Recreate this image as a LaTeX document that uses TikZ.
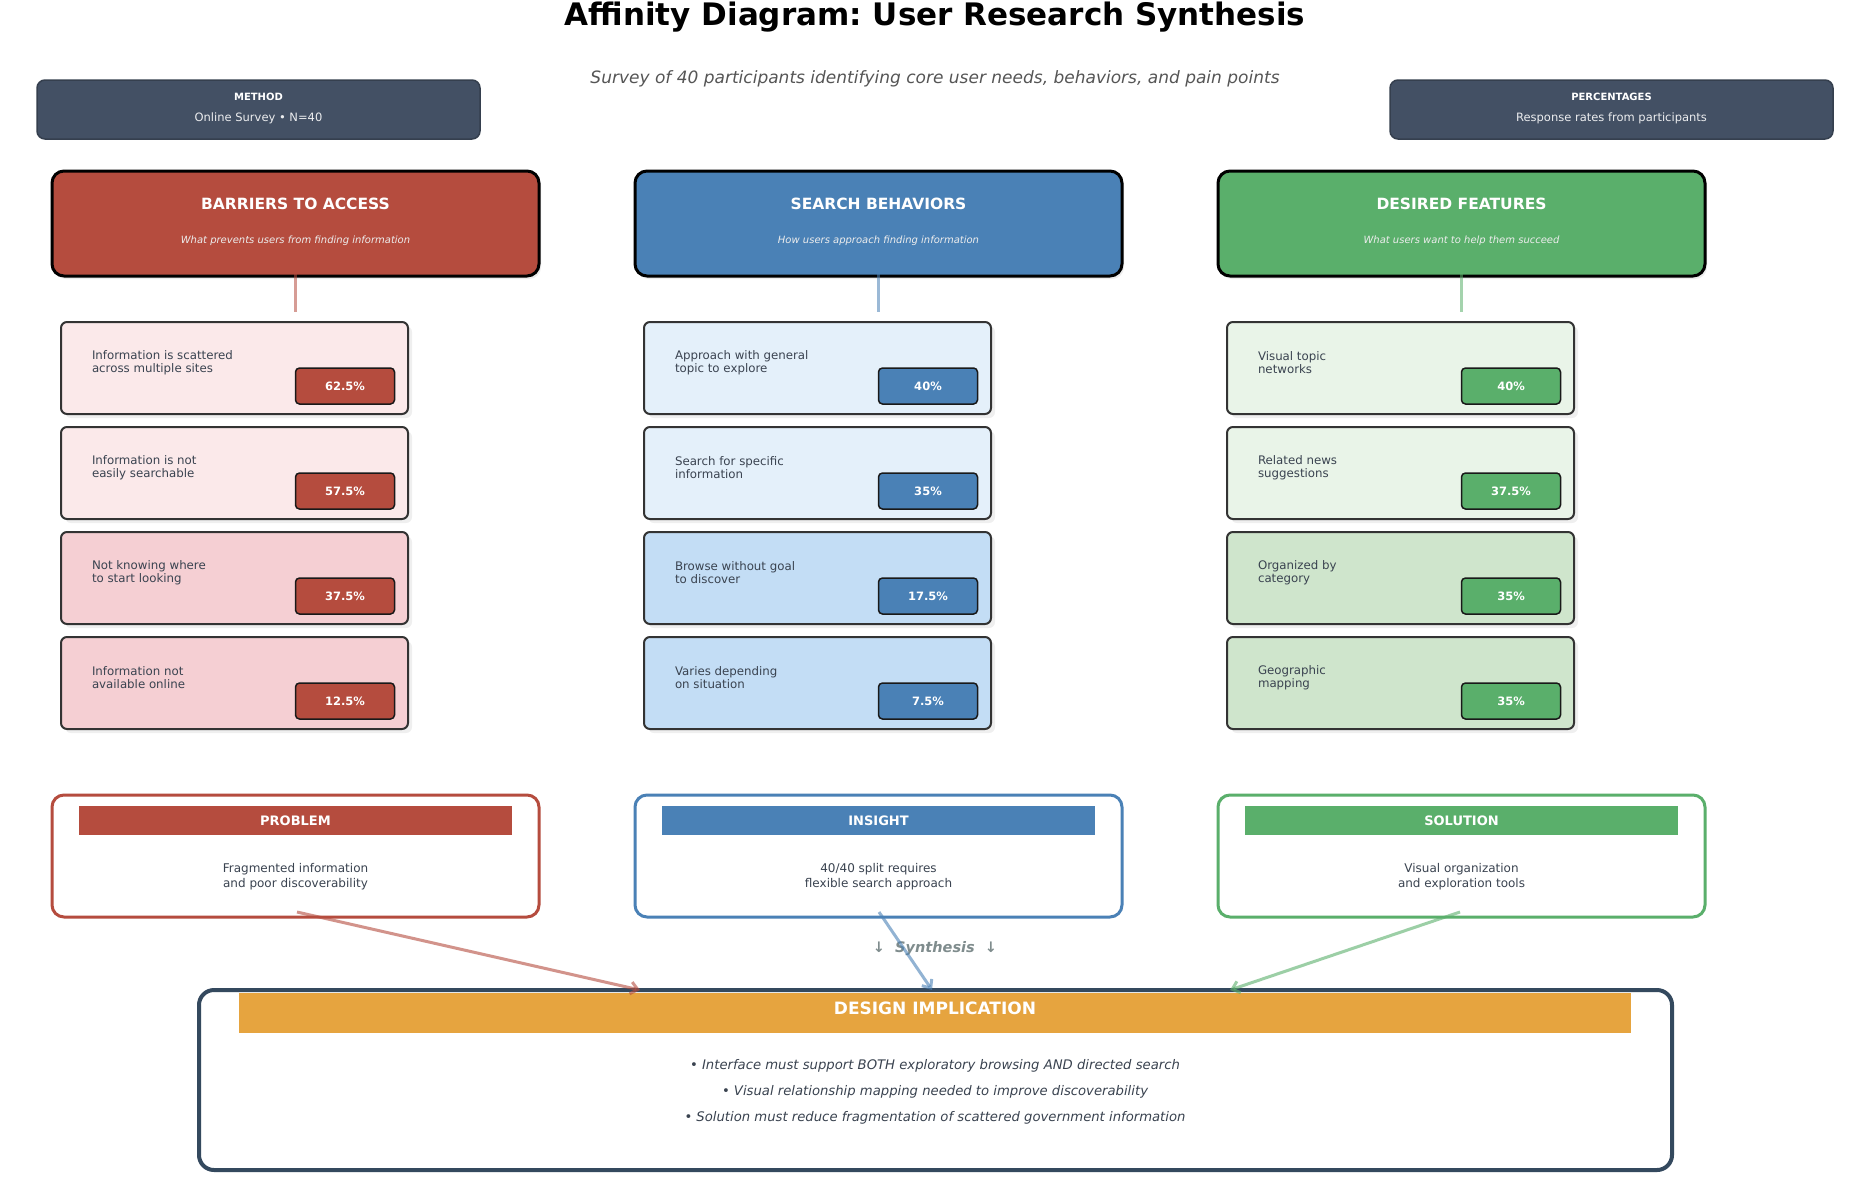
\documentclass[tikz,border=0pt]{standalone}
\usepackage{fontspec}
\setmainfont{DejaVu Sans}
\usetikzlibrary{arrows.meta,shadows}
\frenchspacing
\definecolor{cRed}{HTML}{B54C3E}
\definecolor{cBlue}{HTML}{4A81B6}
\definecolor{cGreen}{HTML}{5AAF6B}
\definecolor{cRedL}{HTML}{FBE9EA}
\definecolor{cRedD}{HTML}{F5CFD3}
\definecolor{cBlueL}{HTML}{E4F0FA}
\definecolor{cBlueD}{HTML}{C3DDF5}
\definecolor{cGreenL}{HTML}{E9F4E8}
\definecolor{cGreenD}{HTML}{CFE5CC}
\definecolor{slate}{HTML}{435064}
\definecolor{slateb}{HTML}{353F4E}
\definecolor{navy}{HTML}{34495E}
\definecolor{orangeb}{HTML}{E6A43F}
\definecolor{txt}{HTML}{3A4350}
\definecolor{subg}{HTML}{555555}
\definecolor{synth}{HTML}{7F8C8D}
\definecolor{cardb}{HTML}{333333}
\newcommand{\mycard}[7]{%
  \node[cardbox, fill=#4, anchor=north west] (#1) at (#2,-#3) {};
  \node[cardtxt, anchor=west] (#1t) at ([xshift=31pt,yshift=-41pt]#1.north west) {#5};
  \node[badge, fill=#6] (#1b) at ([xshift=284pt,yshift=-64pt]#1.north west) {#7};
}
\begin{document}
\begin{tikzpicture}[x=1pt,y=1pt,
  every node/.style={inner sep=0pt, outer sep=0pt},
  metabox/.style={fill=slate, draw=slateb, line width=1.5pt, rounded corners=8pt, minimum width=443pt, minimum height=59pt},
  metatitle/.style={font=\bfseries\fontsize{10}{12}\selectfont, text=white},
  metatext/.style={font=\fontsize{11.5}{13}\selectfont, text=white!90!slate},
  hdrbox/.style={draw=black, line width=3pt, rounded corners=12pt, minimum width=487pt, minimum height=105pt, drop shadow={shadow xshift=2pt,shadow yshift=-3pt,opacity=0.15}},
  hdrtitle/.style={font=\bfseries\fontsize{15.5}{18}\selectfont, text=white},
  hdrsub/.style={font=\itshape\fontsize{10}{12}\selectfont, text=white!93!black},
  conn/.style={line width=3pt, opacity=0.55},
  cardbox/.style={draw=cardb, line width=2pt, rounded corners=6pt, minimum width=347pt, minimum height=92pt, drop shadow={shadow xshift=4pt, shadow yshift=-4pt, opacity=0.12}},
  cardtxt/.style={font=\fontsize{11.8}{13}\selectfont, text=txt, align=left},
  badge/.style={draw=black!90, line width=1.5pt, rounded corners=4pt, minimum width=99pt, minimum height=36pt, text=white, font=\bfseries\fontsize{11.5}{13}\selectfont},
  sumbox/.style={fill=white, line width=3pt, rounded corners=12pt, minimum width=487pt, minimum height=122pt},
  band/.style={minimum width=433pt, minimum height=29pt, text=white, font=\bfseries\fontsize{13}{15}\selectfont},
  body/.style={font=\fontsize{12}{15}\selectfont, text=txt, align=center},
  arr/.style={line width=3pt, opacity=0.6, -{Straight Barb[length=7pt,width=12pt]}},
  bullet/.style={font=\itshape\fontsize{13.2}{15}\selectfont, text=txt, anchor=base}
]
\fill[white] (0,0) rectangle (1866,-1202);
\useasboundingbox (0,0) rectangle (1866,-1202);

% title
\node[anchor=base, font=\bfseries\fontsize{31}{36}\selectfont] (title) at (935,-25) {Affinity Diagram: User Research Synthesis};
\node[anchor=base, font=\itshape\fontsize{17}{20}\selectfont, text=subg] (subtitle) at (935,-83) {Survey of 40 participants identifying core user needs, behaviors, and pain points};

% meta boxes
\node[metabox] (mth) at (258.5,-109.5) {};
\node[metatitle, anchor=base] (mthA) at (258.5,-100.5) {METHOD};
\node[metatext, anchor=base] (mthB) at (258.5,-121) {Online Survey • N=40};
\node[metabox] (pct) at (1611.5,-109.5) {};
\node[metatitle, anchor=base] (pctA) at (1611.5,-100.5) {PERCENTAGES};
\node[metatext, anchor=base] (pctB) at (1611.5,-121) {Response rates from participants};

% headers
\node[hdrbox, fill=cRed] (h1) at (295.5,-223.5) {};
\node[hdrtitle, anchor=base] (h1t) at (295.5,-209.5) {BARRIERS TO ACCESS};
\node[hdrsub, anchor=base] (h1s) at (295.5,-243.5) {What prevents users from finding information};
\node[hdrbox, fill=cBlue] (h2) at (878.5,-223.5) {};
\node[hdrtitle, anchor=base] (h2t) at (878.5,-209.5) {SEARCH BEHAVIORS};
\node[hdrsub, anchor=base] (h2s) at (878.5,-243.5) {How users approach finding information};
\node[hdrbox, fill=cGreen] (h3) at (1461.5,-223.5) {};
\node[hdrtitle, anchor=base] (h3t) at (1461.5,-209.5) {DESIRED FEATURES};
\node[hdrsub, anchor=base] (h3s) at (1461.5,-243.5) {What users want to help them succeed};

\coordinate (h1c) at (295.5,-312);
\coordinate (h2c) at (878.5,-312);
\coordinate (h3c) at (1461.5,-312);
\draw[conn, draw=cRed] ([yshift=14pt]h1.south) -- (h1c);
\draw[conn, draw=cBlue] ([yshift=14pt]h2.south) -- (h2c);
\draw[conn, draw=cGreen] ([yshift=14pt]h3.south) -- (h3c);

% cards column 1
\mycard{a1}{61}{322}{cRedL}{Information is scattered\\across multiple sites}{cRed}{62.5\%}
\mycard{a2}{61}{427}{cRedL}{Information is not\\easily searchable}{cRed}{57.5\%}
\mycard{a3}{61}{532}{cRedD}{Not knowing where\\to start looking}{cRed}{37.5\%}
\mycard{a4}{61}{637}{cRedD}{Information not\\available online}{cRed}{12.5\%}
% column 2
\mycard{b1}{644}{322}{cBlueL}{Approach with general\\topic to explore}{cBlue}{40\%}
\mycard{b2}{644}{427}{cBlueL}{Search for specific\\information}{cBlue}{35\%}
\mycard{b3}{644}{532}{cBlueD}{Browse without goal\\to discover}{cBlue}{17.5\%}
\mycard{b4}{644}{637}{cBlueD}{Varies depending\\on situation}{cBlue}{7.5\%}
% column 3
\mycard{c1}{1227}{322}{cGreenL}{Visual topic\\networks}{cGreen}{40\%}
\mycard{c2}{1227}{427}{cGreenL}{Related news\\suggestions}{cGreen}{37.5\%}
\mycard{c3}{1227}{532}{cGreenD}{Organized by\\category}{cGreen}{35\%}
\mycard{c4}{1227}{637}{cGreenD}{Geographic\\mapping}{cGreen}{35\%}

% summary boxes
\node[sumbox, draw=cRed] (p1) at (295.5,-856) {};
\node[band, fill=cRed] (p1b) at (295.5,-820.5) {PROBLEM};
\node[body] (p1t) at (295.5,-877) {Fragmented information\\and poor discoverability};
\node[sumbox, draw=cBlue] (p2) at (878.5,-856) {};
\node[band, fill=cBlue] (p2b) at (878.5,-820.5) {INSIGHT};
\node[body] (p2t) at (878.5,-877) {40/40 split requires\\flexible search approach};
\node[sumbox, draw=cGreen] (p3) at (1461.5,-856) {};
\node[band, fill=cGreen] (p3b) at (1461.5,-820.5) {SOLUTION};
\node[body] (p3t) at (1461.5,-877) {Visual organization\\and exploration tools};

% synthesis label
\node[anchor=base, font=\bfseries\itshape\fontsize{14.5}{17}\selectfont, text=synth] (syn) at (935,-952) {↓\ \ Synthesis\ \ ↓};

% design implication
\node[fill=white, draw=navy, line width=4pt, rounded corners=15pt, minimum width=1473pt, minimum height=180pt] (dz) at (935.5,-1080) {};
\node[fill=orangeb, minimum width=1392pt, minimum height=40pt] (dzb) at (935,-1013) {};
\node[anchor=base, font=\bfseries\fontsize{17}{20}\selectfont, text=white] (dzt) at (935,-1014) {DESIGN IMPLICATION};
\node[bullet] (d1) at (935,-1069) {• Interface must support BOTH exploratory browsing AND directed search};
\node[bullet] (d2) at (935,-1095) {• Visual relationship mapping needed to improve discoverability};
\node[bullet] (d3) at (935,-1121) {• Solution must reduce fragmentation of scattered government information};

% arrows
\coordinate (s1) at (297,-912);
\coordinate (s2) at (879,-912);
\coordinate (s3) at (1460,-912);
\coordinate (e1) at (640,-990);
\coordinate (e2) at (932,-990);
\coordinate (e3) at (1230,-990);
\draw[arr, draw=cRed] (s1) -- (e1);
\draw[arr, draw=cBlue] (s2) -- (e2);
\draw[arr, draw=cGreen] (s3) -- (e3);
\end{tikzpicture}
\end{document}
